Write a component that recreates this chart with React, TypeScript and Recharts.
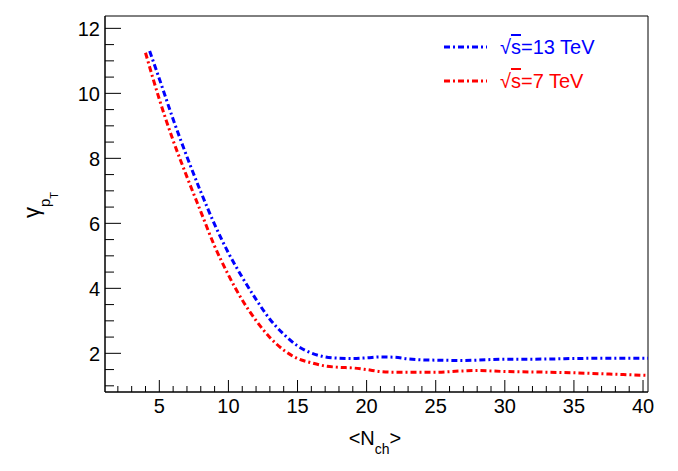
import { LineChart, Line, XAxis, YAxis, Legend, ReferenceArea } from 'recharts';

// <Nch> values
const nch13 = [4.3, 5, 6, 7, 8, 9, 10, 11, 12, 13, 14, 15, 16, 17, 18, 19, 20, 21, 22, 23, 24, 25, 27, 28, 30, 32, 35, 37, 40.4];
const gamma13 = [11.3, 10.45, 9.2, 8.05, 6.97, 5.97, 5.09, 4.34, 3.66, 3.05, 2.59, 2.23, 2.01, 1.89, 1.85, 1.84, 1.86, 1.89, 1.88, 1.83, 1.8, 1.79, 1.78, 1.79, 1.82, 1.82, 1.84, 1.85, 1.85];

const nch7 = [4.0, 5, 6, 7, 8, 9, 10, 11, 12, 13, 14, 15, 16, 17, 18, 19, 20, 21, 22, 25, 27, 28, 30, 33, 35, 37, 40.4];
const gamma7 = [11.25, 9.82, 8.55, 7.43, 6.36, 5.3, 4.41, 3.64, 3.01, 2.49, 2.1, 1.84, 1.71, 1.61, 1.57, 1.55, 1.5, 1.44, 1.42, 1.42, 1.46, 1.47, 1.44, 1.42, 1.4, 1.37, 1.32];

const xMajor = [5, 10, 15, 20, 25, 30, 35, 40];
const xTicks = [2, 3, 4, 5, 6, 7, 8, 9, 10, 11, 12, 13, 14, 15, 16, 17, 18, 19, 20, 21, 22, 23, 24, 25, 26, 27, 28, 29, 30, 31, 32, 33, 34, 35, 36, 37, 38, 39, 40];
const yMajor = [2, 4, 6, 8, 10, 12];
const yTicks = [1, 1.5, 2, 2.5, 3, 3.5, 4, 4.5, 5, 5.5, 6, 6.5, 7, 7.5, 8, 8.5, 9, 9.5, 10, 10.5, 11, 11.5, 12];

const X_DOMAIN: [number, number] = [1.07, 40.36];
const Y_DOMAIN: [number, number] = [0.81, 12.38];

const data13 = nch13.map((n, i) => ({ n, g: gamma13[i] }));
const data7 = nch7.map((n, i) => ({ n, g: gamma7[i] }));

const FONT = '"Liberation Sans", Arial, Helvetica, sans-serif';
const DASH = '6 3 2 3';

const renderXTick = (props: any) => {
  const { x, y, payload } = props;
  const major = xMajor.includes(payload.value);
  return (
    <g key={`xt-${payload.value}`}>
      <line x1={x} y1={y} x2={x} y2={y - (major ? 12 : 6)} stroke="#000" strokeWidth={1} />
      {major && (
        <text x={x} y={y + 21} textAnchor="middle" fontSize={20} fontFamily={FONT} fill="#000">
          {payload.value}
        </text>
      )}
    </g>
  );
};

const renderYTick = (props: any) => {
  const { x, y, payload } = props;
  const major = yMajor.includes(payload.value);
  return (
    <g key={`yt-${payload.value}`}>
      <line x1={x} y1={y} x2={x + (major ? 16 : 9)} y2={y} stroke="#000" strokeWidth={1} />
      {major && (
        <text x={x - 5} y={y} dy="0.36em" textAnchor="end" fontSize={20} fontFamily={FONT} fill="#000">
          {payload.value}
        </text>
      )}
    </g>
  );
};

const renderLegend = (props: any) => {
  const { payload } = props;
  return (
    <div style={{ fontFamily: FONT }}>
      {payload.map((entry: any) => (
        <div key={entry.value} style={{ display: 'flex', alignItems: 'center', height: 34 }}>
          <svg width={46} height={10}>
            <line x1={0} y1={5} x2={43} y2={5} stroke={entry.color} strokeWidth={3} strokeDasharray={DASH} />
          </svg>
          <span style={{ color: entry.color, fontSize: 20, marginLeft: 10 }}>
            √<span style={{ textDecoration: 'overline' }}>s</span>={entry.value} TeV
          </span>
        </div>
      ))}
    </div>
  );
};

const App = () => {
  return (
    <div style={{ position: 'absolute', left: 0, top: 0, background: '#fff' }}>
      <LineChart width={678} height={471} margin={{ top: 16, right: 30, bottom: 78, left: 104 }}>
        <XAxis
          dataKey="n"
          type="number"
          domain={X_DOMAIN}
          ticks={xTicks}
          tick={renderXTick}
          tickLine={false}
          tickSize={0}
          tickMargin={0}
          height={1}
          allowDataOverflow
          stroke="#000"
          interval={0}
        />
        <YAxis
          dataKey="g"
          type="number"
          domain={Y_DOMAIN}
          ticks={yTicks}
          tick={renderYTick}
          tickLine={false}
          tickSize={0}
          tickMargin={0}
          width={1}
          allowDataOverflow
          stroke="#000"
          interval={0}
        />
        <ReferenceArea x1={X_DOMAIN[0]} x2={X_DOMAIN[1]} y1={Y_DOMAIN[0]} y2={Y_DOMAIN[1]} fill="none" stroke="#000" strokeWidth={1} fillOpacity={0} />
        <Legend
          layout="vertical"
          align="center"
          verticalAlign="middle"
          content={renderLegend}
          wrapperStyle={{ left: 444, top: 30, width: 200 }}
        />
        <Line
          data={data13}
          dataKey="g"
          name="13"
          type="monotone"
          stroke="#0000ff"
          strokeWidth={3}
          strokeDasharray={DASH}
          dot={false}
          isAnimationActive={false}
        />
        <Line
          data={data7}
          dataKey="g"
          name="7"
          type="monotone"
          stroke="#ff0000"
          strokeWidth={3}
          strokeDasharray={DASH}
          dot={false}
          isAnimationActive={false}
        />
        <text x={375} y={445} textAnchor="middle" fontSize={20} fontFamily={FONT} fill="#000">
          &lt;N<tspan dy={9} fontSize={14}>ch</tspan><tspan dy={-9} fontSize={20}>&gt;</tspan>
        </text>
        <text transform="translate(39,218) rotate(-90)" x={0} y={0} fontSize={22} fontFamily={FONT} fill="#000">
          γ<tspan dy={11} fontSize={15}>p</tspan><tspan dy={8} fontSize={11}>T</tspan>
        </text>
      </LineChart>
    </div>
  );
};

export default App;
